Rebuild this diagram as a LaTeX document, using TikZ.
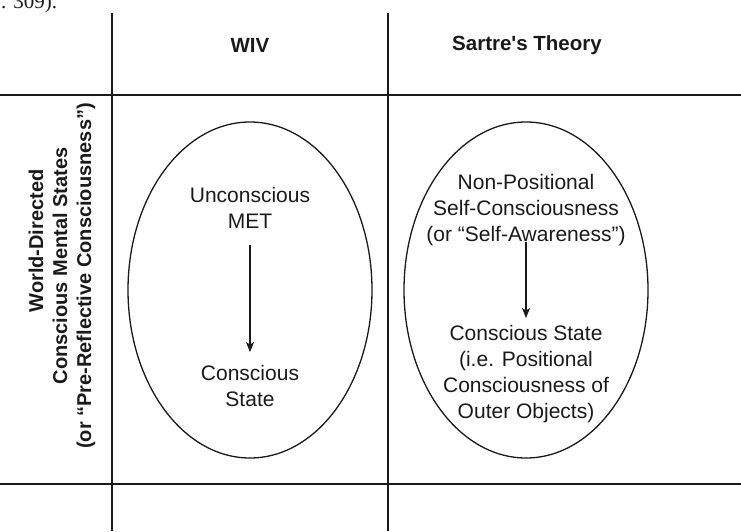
\documentclass[tikz,border=0pt]{standalone}
\usepackage{fontspec}
\setmainfont{Liberation Sans}
\newfontfamily\serifpart{Liberation Serif}
\usetikzlibrary{shapes.geometric,arrows.meta}
\definecolor{ink}{HTML}{1A1A1A}
\tikzset{
  rule/.style={draw=ink,line width=2pt},
  oval/.style={draw=ink,line width=1.3pt,ellipse,minimum width=244pt,minimum height=336pt,inner sep=0pt},
  head/.style={font=\fontsize{20.5}{24}\selectfont\bfseries,text=ink,inner sep=0pt},
  side/.style={font=\fontsize{20}{24}\selectfont\bfseries,text=ink,align=center,inner sep=0pt,rotate=90},
  body/.style={font=\fontsize{21}{26}\selectfont,text=ink,align=center,inner sep=0pt},
  arr/.style={draw=ink,line width=1.1pt,-{Stealth[length=10pt,width=8pt,inset=2.5pt]}}
}
\begin{document}
\begin{tikzpicture}[x=1pt,y=-1pt]
\useasboundingbox (0,0) rectangle (741,531);
% cut-off page text
\node[font=\fontsize{21}{24}\selectfont\serifpart,text=ink,anchor=base west,inner sep=0pt] (pg) at (1,8) {. 309).};
% table rules
\coordinate (h1a) at (0,95);   \coordinate (h1b) at (741,95);
\coordinate (h2a) at (0,484);  \coordinate (h2b) at (741,484);
\coordinate (v1a) at (112,13); \coordinate (v1b) at (112,531);
\coordinate (v2a) at (388,13); \coordinate (v2b) at (388,531);
\draw[rule] (h1a) -- (h1b);
\draw[rule] (h2a) -- (h2b);
\draw[rule] (v1a) -- (v1b);
\draw[rule] (v2a) -- (v2b);
% headers
\node[head] (wiv) at (250,45) {WIV};
\node[head] (sar) at (527,45) {Sartre\textquotesingle s Theory};
% row label
\node[side] (row) at (62,276) {\hspace*{70pt}World-Directed\\\hspace*{20pt}Conscious Mental States\\(or “Pre-Reflective Consciousness”)};
% ellipses
\node[oval] (e1) at (250,290) {};
\node[oval] (e2) at (526,290) {};
% WIV contents
\node[body] (un) at (250,208) {Unconscious\\MET};
\node[body] (cs) at (250,386) {Conscious\\State};
\draw[arr,shorten <=16pt,shorten >=13pt] (un.south) -- (cs.north);
% Sartre contents
\node[body] (np) at (526,210) {Non-Positional\\Self-Consciousness\\(or “Self-Awareness”)};
\node[body] (st) at (526,374) {Conscious State\\(i.e. Positional\\Consciousness of\\Outer Objects)};
\draw[arr,shorten <=-4pt,shorten >=7pt] (np.south) -- (st.north);
\end{tikzpicture}
\end{document}
